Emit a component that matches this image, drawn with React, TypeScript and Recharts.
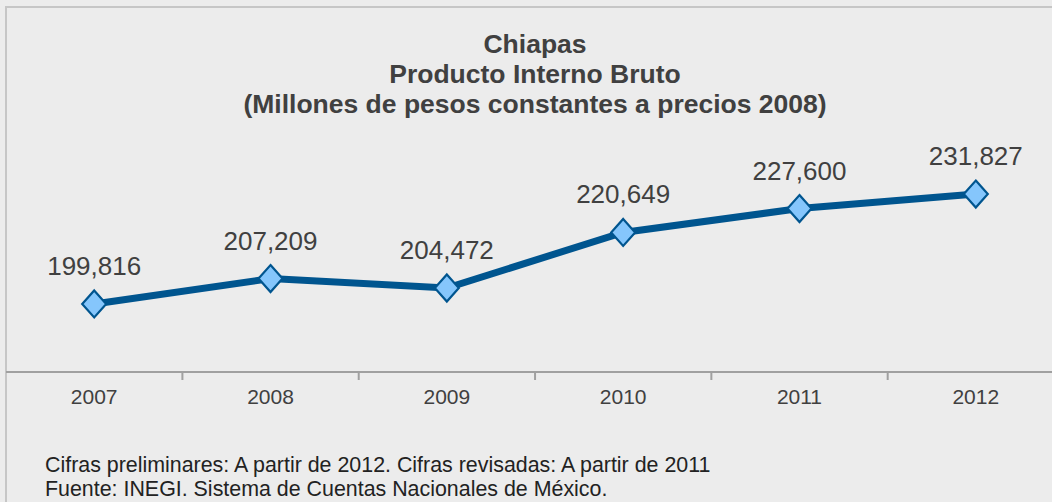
import React from 'react';
import { LineChart, Line, XAxis, YAxis, LabelList } from 'recharts';

const years = ['2007', '2008', '2009', '2010', '2011', '2012'];
const pib = [199816, 207209, 204472, 220649, 227600, 231827];
const titleLines = ['Chiapas', 'Producto Interno Bruto', '(Millones de pesos constantes a precios 2008)'];
const notes = [
  'Cifras preliminares: A partir de 2012. Cifras revisadas: A partir de 2011',
  'Fuente: INEGI. Sistema de Cuentas Nacionales de México.',
];

const data = years.map((year, i) => ({ year, value: pib[i] }));

const FONT = '"Liberation Sans", Arial, Helvetica, sans-serif';
const STEP = 176.4;
const LINE_COLOR = '#00558f';

const Diamond = ({ cx, cy }: any) => {
  if (cx == null || cy == null) return null;
  return (
    <path
      d={`M${cx},${cy - 13.5} L${cx + 12},${cy} L${cx},${cy + 13.5} L${cx - 12},${cy} Z`}
      fill="#85c6fc"
      stroke={LINE_COLOR}
      strokeWidth={2.2}
    />
  );
};

const YearTick = ({ x, y, payload, index }: any) => (
  <g>
    {index < years.length - 1 && (
      <line x1={x + STEP / 2} y1={y} x2={x + STEP / 2} y2={y + 8} stroke="#a0a0a0" strokeWidth={2} />
    )}
    <text x={x} y={y + 32} textAnchor="middle" fill="#404040" fontSize={21} fontFamily={FONT}>
      {payload.value}
    </text>
  </g>
);

const ValueLabel = ({ x, y, value }: any) => (
  <text x={x} y={y - 29} textAnchor="middle" fill="#404040" fontSize={26} fontFamily={FONT}>
    {Number(value).toLocaleString('en-US')}
  </text>
);

export default function App() {
  return (
    <div
      style={{
        position: 'absolute',
        left: 0,
        top: 0,
        width: 1052,
        height: 502,
        background: '#ececec',
        overflow: 'hidden',
        fontFamily: FONT,
      }}
    >
      {/* frame, only left and top edges visible */}
      <div
        style={{
          position: 'absolute',
          left: 5,
          top: 6,
          width: 1100,
          height: 600,
          borderLeft: '2px solid #c6c6c6',
          borderTop: '2px solid #c6c6c6',
        }}
      />
      <div
        style={{
          position: 'absolute',
          left: 0,
          top: 29,
          width: 1070,
          textAlign: 'center',
          fontWeight: 'bold',
          fontSize: 26.5,
          lineHeight: '30px',
          color: '#404040',
        }}
      >
        {titleLines.map((t) => (
          <div key={t}>{t}</div>
        ))}
      </div>
      <div style={{ position: 'absolute', left: 0, top: 0 }}>
        <LineChart width={1080} height={502} data={data} margin={{ top: 166, right: 16, bottom: 90, left: 6 }}>
          <XAxis
            dataKey="year"
            padding={{ left: STEP / 2, right: STEP / 2 }}
            axisLine={{ stroke: '#a0a0a0', strokeWidth: 2 }}
            tickLine={false}
            tickSize={0}
            tickMargin={0}
            height={40}
            interval={0}
            tick={<YearTick />}
          />
          <YAxis hide domain={[180000, 240000]} />
          <Line
            type="linear"
            dataKey="value"
            stroke={LINE_COLOR}
            strokeWidth={7}
            dot={<Diamond />}
            activeDot={false}
            isAnimationActive={false}
          >
            <LabelList dataKey="value" content={<ValueLabel />} />
          </Line>
        </LineChart>
      </div>
      <div
        style={{
          position: 'absolute',
          left: 45,
          top: 453,
          fontSize: 21.4,
          lineHeight: '24px',
          color: '#222222',
        }}
      >
        {notes.map((n) => (
          <div key={n}>{n}</div>
        ))}
      </div>
    </div>
  );
}
